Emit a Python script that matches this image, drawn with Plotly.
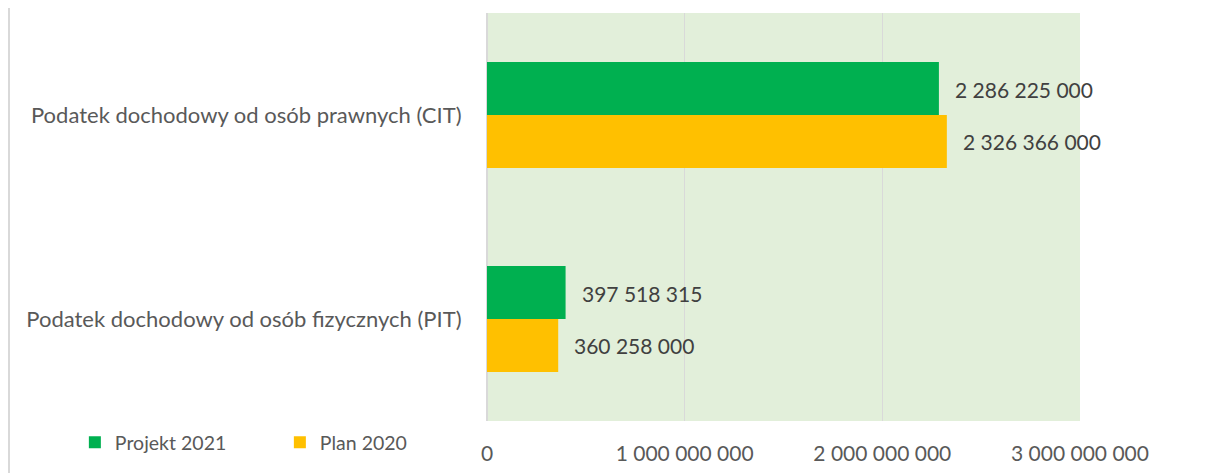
import plotly.graph_objects as go

categories = ["Podatek dochodowy od osób prawnych (CIT)", "Podatek dochodowy od osób fizycznych (PIT)"]
series_names = ["Projekt 2021", "Plan 2020"]
projekt_2021 = [2286225000, 397518315]
plan_2020 = [2326366000, 360258000]
colors = ["#00B050", "#FFC000"]
x_ticks = [0, 1000000000, 2000000000, 3000000000]
x_tick_labels = ["0", "1 000 000 000", "2 000 000 000", "3 000 000 000"]

def fmt(v):
    return f"{v:,}".replace(",", " ")

FONT = "Lato"
L, R, T, B = 479, 127, 5, 52
W, H = 1199, 465
PW = W - L - R

fig = go.Figure()
for name, vals, col in zip(series_names, [projekt_2021, plan_2020], colors):
    fig.add_trace(go.Bar(
        y=categories, x=vals, name=name, orientation="h",
        marker=dict(color=col, line=dict(width=0)),
        hoverinfo="skip",
    ))

# value labels
annotations = []
for i, vals in enumerate([projekt_2021, plan_2020]):
    for j, v in enumerate(vals):
        annotations.append(dict(
            x=v, y=categories[j], xref="x", yref="y",
            text=fmt(v), showarrow=False, xanchor="left",
            xshift=14, yshift=26 if i == 0 else -26,
            font=dict(family=FONT, size=21, color="#404040"),
        ))

fig.update_layout(
    width=W, height=H,
    margin=dict(l=L, r=R, t=T, b=B, autoexpand=False),
    plot_bgcolor="#E2EFDA", paper_bgcolor="white",
    barmode="group", bargap=0.48, bargroupgap=0,
    font=dict(family=FONT, size=21, color="#595959"),
    annotations=annotations,
    showlegend=True,
    legend=dict(orientation="h", x=-0.695, y=-0.005, xanchor="left", yanchor="top",
                font=dict(family=FONT, size=19.5, color="#595959"),
                entrywidth=160, entrywidthmode="pixels",
                itemwidth=30, bgcolor="rgba(0,0,0,0)"),
    shapes=[dict(type="line", xref="paper", yref="paper",
                 x0=(1 - L) / PW, x1=(1 - L) / PW, y0=-0.3, y1=1.1,
                 line=dict(color="#D9D9D9", width=2))],
)
fig.update_xaxes(range=[0, 3000000000], tickvals=x_ticks, ticktext=x_tick_labels,
                 automargin=False,
                 showgrid=True, gridcolor="#D9D9D9", gridwidth=1,
                 zeroline=True, zerolinecolor="#D9D9D9", zerolinewidth=2,
                 ticks="outside", ticklen=14, tickcolor="rgba(0,0,0,0)",
                 tickfont=dict(family=FONT, size=21, color="#595959"))
fig.update_yaxes(autorange="reversed", showgrid=False, automargin=False,
                 ticks="outside", ticklen=20, tickcolor="rgba(0,0,0,0)",
                 tickfont=dict(family=FONT, size=22, color="#595959"))
fig.write_html("out.html")
